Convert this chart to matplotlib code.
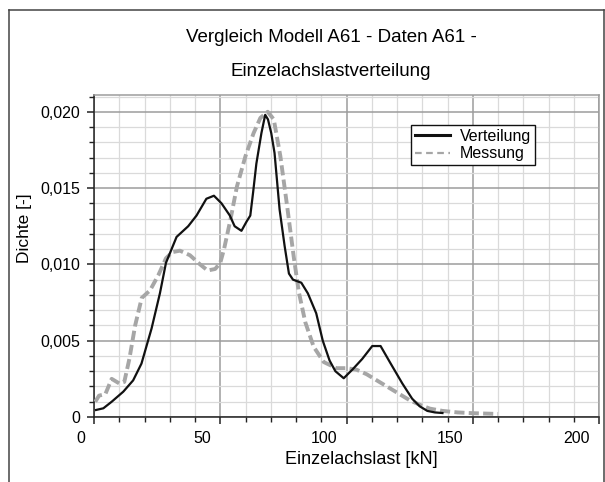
import matplotlib
matplotlib.use("Agg")
import matplotlib.pyplot as plt
from matplotlib.lines import Line2D
from matplotlib.ticker import MultipleLocator, FuncFormatter
from matplotlib.transforms import ScaledTranslation

plt.rcParams['font.family'] = ['Liberation Sans', 'DejaVu Sans']

##### Data

# Verteilung (model, solid black)
vert_x = [0.8, 3.7, 7, 11.6, 15.5, 18.8, 22.8, 26.1, 28.5, 32.7, 37.3, 40.6, 44.5, 47.5,
          50.5, 53.8, 55.7, 58.4, 60.4, 61.9, 63, 64.3, 66.3, 67.8, 68.9, 70.2, 71.5,
          73.5, 75.5, 77.2, 78.8, 82.1, 84.7, 88, 90.6, 93.3, 95.6, 98.9, 102.3, 106.2,
          110.2, 113.5, 117.5, 122.1, 126, 129, 132, 135, 138]
vert_y = [0.00046, 0.00057, 0.0010, 0.00166, 0.0024, 0.0035, 0.0058, 0.0081, 0.0101,
          0.0118, 0.0125, 0.0132, 0.0143, 0.0145, 0.0140, 0.0132, 0.0125, 0.0122, 0.0128,
          0.0132, 0.0147, 0.0166, 0.0186, 0.0198, 0.0195, 0.0186, 0.0173, 0.0136, 0.0112,
          0.0094, 0.0090, 0.0088, 0.0081, 0.0068, 0.0050, 0.0037, 0.0030, 0.00254, 0.0031,
          0.0038, 0.00465, 0.00465, 0.0035, 0.0022, 0.0012, 0.0007, 0.0004, 0.0003, 0.00026]

# Messung (measurement, dashed grey)
mess_x = [0.5, 2, 4.5, 7, 10, 12, 14, 16.3, 18.9, 22.2, 25.5, 28.5, 31, 34, 38, 42, 45,
          48, 50, 51.5, 54, 56.6, 60, 63.2, 65.9, 68.8, 71.2, 73.8, 76.5, 79.1, 81.1, 83.7,
          87, 91, 96, 100, 104, 108, 113, 117, 121, 125, 129, 133, 138, 144, 150, 160]
mess_y = [0.0010, 0.0014, 0.0015, 0.0025, 0.0022, 0.0023, 0.0038, 0.0060, 0.0078, 0.0083,
          0.0093, 0.0104, 0.0108, 0.0109, 0.0106, 0.0100, 0.0096, 0.0097, 0.0101, 0.0110,
          0.0129, 0.0151, 0.0171, 0.0186, 0.0196, 0.0200, 0.0195, 0.0171, 0.0138, 0.0105,
          0.0082, 0.0062, 0.0046, 0.0036, 0.0032, 0.0032, 0.0031, 0.0028, 0.0023, 0.0019,
          0.0015, 0.0011, 0.0008, 0.00055, 0.0004, 0.0003, 0.00025, 0.0002]

title_lines = ["Vergleich Modell A61 - Daten A61 -", "Einzelachslastverteilung"]
x_label = "Einzelachslast [kN]"
y_label = "Dichte [-]"
legend_labels = ["Verteilung", "Messung"]

W, H = 605, 482
fig = plt.figure(figsize=(W / 100, H / 100), dpi=100)

# outer frame
frame_kw = dict(color='#444444', lw=1.1, transform=fig.transFigure, clip_on=False)
fig.add_artist(Line2D([8.5 / W, 8.5 / W], [0, 1 - 10 / H], **frame_kw))
fig.add_artist(Line2D([8.5 / W, 603.5 / W], [1 - 10 / H, 1 - 10 / H], **frame_kw))
fig.add_artist(Line2D([603.5 / W, 603.5 / W], [0, 1 - 10 / H], **frame_kw))

ax = fig.add_axes([94 / W, 1 - 417 / H, (599 - 94) / W, (417 - 95) / H])

ax.plot(vert_x, vert_y, color='#111111', lw=1.6, zorder=4)
ax.plot(mess_x, mess_y, color='#a6a6a6', lw=2.8, dashes=(2.6, 1.1), zorder=3)

ax.set_xlim(0, 200)
ax.set_ylim(0, 0.0211)

ax.xaxis.set_major_locator(MultipleLocator(50))
ax.xaxis.set_minor_locator(MultipleLocator(10))
ax.yaxis.set_major_locator(MultipleLocator(0.005))
ax.yaxis.set_minor_locator(MultipleLocator(0.001))
ax.yaxis.set_major_formatter(FuncFormatter(
    lambda v, p: '0' if abs(v) < 1e-9 else f'{v:.3f}'.replace('.', ',')))

ax.grid(which='major', color='#9c9c9c', lw=1.1, zorder=0)
ax.grid(which='minor', color='#dadada', lw=0.9, zorder=0)
ax.set_axisbelow(True)

for side in ['left', 'bottom']:
    ax.spines[side].set_color('#222222')
    ax.spines[side].set_linewidth(1.1)
for side in ['top', 'right']:
    ax.spines[side].set_color('#9c9c9c')
    ax.spines[side].set_linewidth(1.1)

ax.tick_params(which='major', direction='out', length=5, width=1.1, labelsize=11.5,
               color='#222222')
ax.tick_params(which='minor', direction='out', length=3.5, width=1.0, color='#222222')
ax.tick_params(axis='y', which='major', pad=5)
ax.tick_params(axis='x', which='major', pad=5)

# x tick labels sit left of their ticks in the reference
fig.canvas.draw()
shift = ScaledTranslation(-9 / 100, 0, fig.dpi_scale_trans)
for lab in ax.get_xticklabels():
    lab.set_ha('right')
    lab.set_transform(lab.get_transform() + shift)

handles = [Line2D([], [], color='#111111', lw=2.2),
           Line2D([], [], color='#a6a6a6', lw=1.6, dashes=(3, 2))]
leg = ax.legend(handles, legend_labels, loc='upper left', bbox_to_anchor=(0.628, 0.907),
                borderaxespad=0, fontsize=11.5, handlelength=2.2, labelspacing=0.15,
                handletextpad=0.6, borderpad=0.25, fancybox=False, framealpha=1)
leg.get_frame().set_edgecolor('#111111')
leg.get_frame().set_linewidth(1.0)

fig.text(331 / W, 1 - 37 / H, title_lines[0], ha='center', va='center', fontsize=13.5)
fig.text(331 / W, 1 - 72 / H, title_lines[1], ha='center', va='center', fontsize=13.5)
fig.text(361 / W, 1 - 459 / H, x_label, ha='center', va='center', fontsize=13)
fig.text(24 / W, 1 - 228 / H, y_label, ha='center', va='center', rotation=90, fontsize=12.5)

fig.savefig('out.png', dpi=100)
